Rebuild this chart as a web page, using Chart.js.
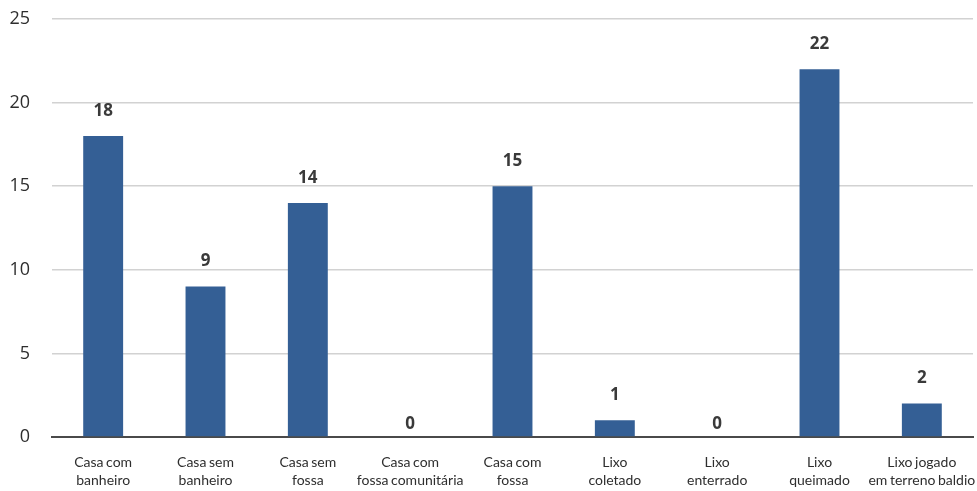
<!DOCTYPE html>
<html>
<head>
<meta charset="utf-8">
<script src="https://cdn.jsdelivr.net/npm/chart.js@4/dist/chart.umd.min.js"></script>
<style>
  html, body { margin: 0; padding: 0; background: #fff; }
  #wrap { width: 977px; height: 491px; }
</style>
</head>
<body>
<div id="wrap"><canvas id="chart"></canvas></div>
<script>
var CATEGORIES = [
  ["Casa com", "banheiro"],
  ["Casa sem", "banheiro"],
  ["Casa sem", "fossa"],
  ["Casa com", "fossa comunitária"],
  ["Casa com", "fossa"],
  ["Lixo", "coletado"],
  ["Lixo", "enterrado"],
  ["Lixo", "queimado"],
  ["Lixo jogado", "em terreno baldio"],
];
var VALUES = [18, 9, 14, 0, 15, 1, 0, 22, 2];
var Y_TICKS = [0, 5, 10, 15, 20, 25];

var BAR_COLOR = "#345f95";
var TEXT_COLOR = "#2e2e2e";

// slightly tighter word spacing, like the narrow font of the original
var tightWords = {
  id: "tightWords",
  beforeDraw: function (chart) {
    chart.ctx.wordSpacing = "-1px";
  },
};

// draws the bold value above each bar
var valueLabels = {
  id: "valueLabels",
  afterDatasetsDraw: function (chart) {
    var ctx = chart.ctx;
    var meta = chart.getDatasetMeta(0);
    ctx.save();
    ctx.fillStyle = "#3a3a3a";
    ctx.font = "bold 17px 'Open Sans', sans-serif";
    ctx.textAlign = "center";
    ctx.textBaseline = "middle";
    meta.data.forEach(function (bar, i) {
      var v = VALUES[i];
      var off = v === 0 ? 13 : 25;
      ctx.fillText(String(v), bar.x, bar.y - off);
    });
    ctx.restore();
  },
};

new Chart(document.getElementById("chart").getContext("2d"), {
  type: "bar",
  data: {
    labels: CATEGORIES,
    datasets: [
      {
        data: VALUES,
        backgroundColor: BAR_COLOR,
        borderWidth: 0,
        categoryPercentage: 1,
        barPercentage: 0.39,
      },
    ],
  },
  options: {
    responsive: true,
    maintainAspectRatio: false,
    animation: false,
    layout: { padding: { top: 19, right: 4, left: 0, bottom: 0 } },
    plugins: {
      legend: { display: false },
      tooltip: { enabled: false },
    },
    scales: {
      x: {
        afterFit: function (axis) {
          axis.height = 54;
          axis.paddingLeft = 0;
          axis.paddingRight = 0;
        },
        border: { display: true, color: "#4a4a4a", width: 2 },
        grid: { display: false },
        ticks: {
          color: TEXT_COLOR,
          padding: 9,
          maxRotation: 0,
          autoSkip: false,
          font: { family: "Lato, sans-serif", size: 14, lineHeight: 1.28 },
        },
      },
      y: {
        min: 0,
        max: 25,
        afterBuildTicks: function (axis) {
          axis.ticks = Y_TICKS.map(function (v) { return { value: v }; });
        },
        afterFit: function (axis) {
          axis.width = 52;
          axis.paddingTop = 0;
          axis.paddingBottom = 0;
        },
        border: { display: false },
        grid: { color: "#d2d2d2", lineWidth: 1.5, drawTicks: false },
        ticks: {
          color: TEXT_COLOR,
          padding: 22,
          font: { family: "'Open Sans', sans-serif", size: 18 },
        },
      },
    },
  },
  plugins: [tightWords, valueLabels],
});
</script>
</body>
</html>
